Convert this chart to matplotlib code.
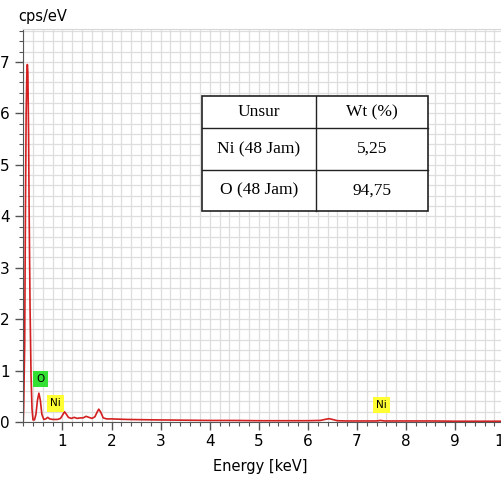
import matplotlib
matplotlib.use("Agg")
import matplotlib.pyplot as plt
from matplotlib.ticker import MultipleLocator

# Spectrum
energy = [0.20, 0.21, 0.23, 0.245, 0.26, 0.275, 0.285, 0.295, 0.31, 0.32, 0.34, 0.36, 0.38, 0.40,
          0.43, 0.46, 0.49, 0.52, 0.55, 0.58, 0.62, 0.66, 0.70, 0.74, 0.80, 0.90, 0.96, 1.00,
          1.04, 1.08, 1.12, 1.18, 1.24, 1.30, 1.36, 1.42, 1.48, 1.54, 1.60, 1.66, 1.71, 1.74,
          1.78, 1.83, 1.90, 2.0, 2.3, 2.6, 3.0, 3.5, 4.0, 4.5, 5.0, 5.5, 6.0, 6.25, 6.35, 6.43,
          6.5, 6.6, 6.8, 7.0, 7.4, 7.48, 7.56, 8.0, 8.5, 9.0, 9.5, 10.0, 10.3]
counts = [0.00, 0.30, 1.50, 4.00, 6.00, 6.80, 6.95, 6.80, 5.60, 4.20, 2.20, 0.90, 0.25, 0.04,
          0.04, 0.15, 0.42, 0.56, 0.42, 0.15, 0.05, 0.06, 0.09, 0.06, 0.05, 0.05, 0.07, 0.13,
          0.20, 0.15, 0.09, 0.07, 0.09, 0.07, 0.08, 0.08, 0.11, 0.09, 0.07, 0.10, 0.20, 0.25,
          0.19, 0.08, 0.06, 0.06, 0.05, 0.045, 0.04, 0.035, 0.03, 0.03, 0.025, 0.025, 0.025, 0.03, 0.05, 0.065,
          0.05, 0.025, 0.02, 0.02, 0.02, 0.03, 0.02, 0.02, 0.02, 0.015, 0.015, 0.015, 0.015]

peak_labels = ["O", "Ni", "Ni"]
peak_x = [0.55, 0.86, 7.50]
peak_y = [0.84, 0.36, 0.33]
peak_colors = ["#33e033", "#ffff33", "#ffff33"]

table_header = ["Unsur", "Wt (%)"]
table_elements = ["Ni (48 Jam)", "O (48 Jam)"]
table_wt = ["5,25", "94,75"]

W, H = 502, 478
fig = plt.figure(figsize=(W / 100, H / 100), dpi=100)
plt.rcParams['font.family'] = ['DejaVu Sans']

left, right, top, bottom = 23, 515, 29, 422
ax = fig.add_axes([left / W, 1 - bottom / H, (right - left) / W, (bottom - top) / H])
ax.plot(energy, counts, color="#d42020", lw=1.2)
ax.set_xlim(0.196, 10.22)
ax.set_ylim(0, 7.64)

ax.xaxis.set_major_locator(MultipleLocator(1))
ax.xaxis.set_minor_locator(MultipleLocator(0.2))
ax.yaxis.set_major_locator(MultipleLocator(1))
ax.yaxis.set_minor_locator(MultipleLocator(0.2))
ax.grid(which="both", color="#dedede", lw=0.9)
ax.set_axisbelow(True)
ax.tick_params(axis="both", which="major", direction="out", length=6, color="#555555",
               labelsize=11, width=1)
ax.tick_params(axis="both", which="minor", direction="out", length=3, color="#555555", width=0.8)
ax.tick_params(axis="x", pad=3)
ax.spines["left"].set_color("#555555")
ax.spines["bottom"].set_color("#555555")
ax.spines["top"].set_color("#d8d8d8")
ax.spines["right"].set_visible(False)

fig.text(260 / W, 1 - 467 / H, "Energy [keV]", ha="center", va="center", fontsize=10.5)
fig.text(43 / W, 1 - 16 / H, "cps/eV", ha="center", va="center", fontsize=10.5)

for lab, px, py, c in zip(peak_labels, peak_x, peak_y, peak_colors):
    ax.text(px, py, lab, ha="center", va="center", fontsize=7.5,
            bbox=dict(boxstyle="square,pad=0.3", fc=c, ec="none"))

# Table
tl, tr, tt, tb = 202, 428, 96, 211
tax = fig.add_axes([tl / W, 1 - tb / H, (tr - tl) / W, (tb - tt) / H])
tax.set_xlim(tl, tr)
tax.set_ylim(tb, tt)
tax.axis("off")
tax.add_patch(plt.Rectangle((tl, tt), tr - tl, tb - tt, fc="white", ec="#222222", lw=1.2,
                            clip_on=False))
row_edges = [96, 128, 170, 211]
col_split = 316
for y in row_edges[1:-1]:
    tax.plot([tl, tr], [y, y], color="#222222", lw=1.0, clip_on=False)
tax.plot([col_split, col_split], [tt, tb], color="#222222", lw=1.0, clip_on=False)
rows = [table_header] + [[e, w] for e, w in zip(table_elements, table_wt)]
for i, row in enumerate(rows):
    yc = (row_edges[i] + row_edges[i + 1]) / 2
    tax.text((tl + col_split) / 2, yc, row[0], ha="center", va="center",
             fontsize=12.5, family="Liberation Serif")
    tax.text((col_split + tr) / 2, yc, row[1], ha="center", va="center",
             fontsize=12.5, family="Liberation Serif")

fig.savefig("out.png", dpi=100)
